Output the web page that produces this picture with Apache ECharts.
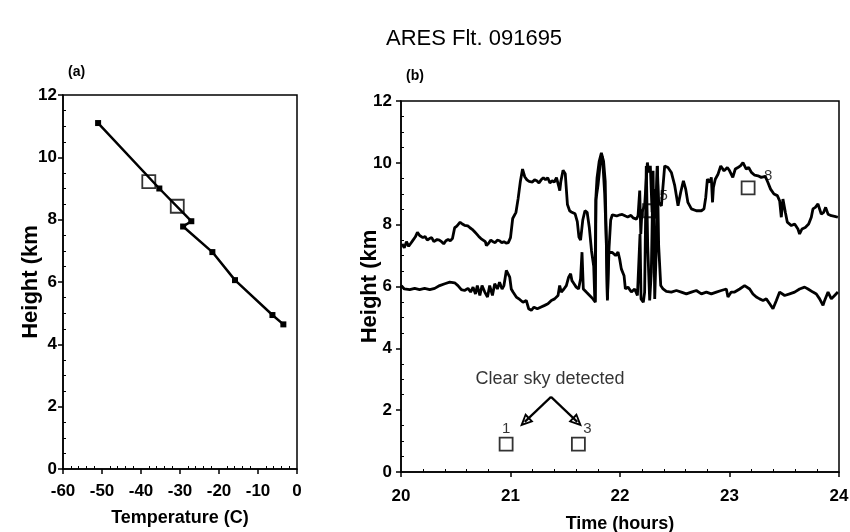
<!DOCTYPE html>
<html>
<head>
<meta charset="utf-8">
<script src="https://cdn.jsdelivr.net/npm/echarts@6/dist/echarts.min.js"></script>
<style>html,body{margin:0;padding:0;background:#fff}#c{width:850px;height:532px}</style>
</head>
<body>
<div id="c"></div>
<script>
// ---------- data: panel (a) temperature profile ----------
const profileTemp   = [-51, -35.3, -27.1, -29.2, -21.7, -15.9, -6.3, -3.5];
const profileHeight = [11.1, 9.0, 7.95, 7.78, 6.96, 6.06, 4.94, 4.64];
const openTemp   = [-38, -30.7];
const openHeight = [9.22, 8.43];
const tempTicks = [-60, -50, -40, -30, -20, -10, 0];
const heightTicks = [0, 2, 4, 6, 8, 10, 12];
const timeTicks = [20, 21, 22, 23, 24];

// ---------- data: panel (b) cloud heights ----------
const upperCloud = [[20.01,7.38],[20.03,7.25],[20.05,7.45],[20.07,7.30],[20.09,7.40],[20.11,7.50],[20.13,7.60],[20.15,7.75],[20.17,7.65],[20.20,7.58],[20.22,7.62],[20.24,7.50],[20.26,7.55],[20.28,7.58],[20.30,7.45],[20.31,7.42],[20.33,7.52],[20.35,7.50],[20.37,7.45],[20.39,7.38],[20.41,7.48],[20.43,7.52],[20.45,7.48],[20.47,7.55],[20.49,7.90],[20.51,7.95],[20.54,8.08],[20.56,8.02],[20.58,7.98],[20.61,7.96],[20.63,7.90],[20.65,7.85],[20.67,7.78],[20.69,7.70],[20.71,7.62],[20.73,7.55],[20.75,7.50],[20.77,7.45],[20.78,7.32],[20.80,7.40],[20.82,7.50],[20.84,7.45],[20.86,7.42],[20.88,7.50],[20.90,7.48],[20.92,7.42],[20.94,7.45],[20.96,7.40],[20.98,7.42],[21.00,7.58],[21.02,8.20],[21.05,8.40],[21.07,8.85],[21.09,9.40],[21.11,9.80],[21.13,9.55],[21.15,9.45],[21.17,9.40],[21.20,9.38],[21.22,9.45],[21.24,9.42],[21.26,9.35],[21.28,9.45],[21.30,9.52],[21.32,9.45],[21.34,9.52],[21.36,9.35],[21.38,9.42],[21.40,9.38],[21.42,9.52],[21.44,9.25],[21.45,9.10],[21.46,9.40],[21.48,9.76],[21.50,9.65],[21.51,9.60],[21.52,8.65],[21.54,8.45],[21.56,8.40],[21.59,8.35],[21.61,8.10],[21.625,7.60],[21.64,7.50],[21.66,8.15],[21.68,8.45],[21.70,8.40],[21.72,7.90],[21.74,7.15],[21.76,6.65],[21.77,5.55],[21.78,8.90],[21.79,9.50],[21.81,10.05],[21.83,10.32],[21.85,10.05],[21.865,9.40],[21.87,8.35],[21.885,5.55],[21.90,7.25],[21.915,8.15],[21.93,8.32],[21.95,8.30],[21.97,8.28],[22.00,8.32],[22.02,8.33],[22.05,8.28],[22.07,8.25],[22.10,8.30],[22.12,8.22],[22.15,8.18],[22.165,8.29],[22.18,9.10],[22.19,7.70],[22.20,8.40],[22.225,8.61],[22.25,10.01],[22.262,9.69],[22.277,9.90],[22.293,8.40],[22.311,9.15],[22.323,8.20],[22.34,9.90],[22.353,8.72],[22.378,8.61],[22.408,9.90],[22.438,9.85],[22.469,9.69],[22.50,9.26],[22.53,8.61],[22.554,9.04],[22.579,9.42],[22.60,9.15],[22.62,8.72],[22.652,8.51],[22.697,8.45],[22.743,8.45],[22.767,8.51],[22.783,8.88],[22.798,9.47],[22.82,9.37],[22.834,9.53],[22.845,8.72],[22.853,9.20],[22.87,9.47],[22.895,9.63],[22.92,9.90],[22.95,9.74],[22.98,9.85],[23.00,9.75],[23.03,9.53],[23.053,9.80],[23.077,9.85],[23.10,9.90],[23.123,10.01],[23.153,9.80],[23.175,9.85],[23.20,9.69],[23.23,9.60],[23.26,9.58],[23.29,9.53],[23.327,9.56],[23.35,9.37],[23.375,9.15],[23.406,8.99],[23.437,8.94],[23.458,8.77],[23.473,8.24],[23.488,8.83],[23.51,8.40],[23.528,8.08],[23.565,7.97],[23.595,8.02],[23.625,7.86],[23.64,7.70],[23.662,7.86],[23.692,7.91],[23.723,8.02],[23.747,8.24],[23.762,8.51],[23.784,8.56],[23.808,8.67],[23.826,8.61],[23.838,8.34],[23.86,8.40],[23.878,8.56],[23.90,8.34],[23.93,8.29],[23.96,8.27],[23.99,8.24]];

const lowerCloud = [[20.003,6.03],[20.03,5.92],[20.08,5.90],[20.125,5.94],[20.17,5.90],[20.216,5.94],[20.262,5.90],[20.308,5.94],[20.353,6.03],[20.40,6.09],[20.445,6.14],[20.49,6.12],[20.52,6.03],[20.551,5.90],[20.58,5.87],[20.612,5.94],[20.636,5.82],[20.658,5.98],[20.68,5.76],[20.697,6.03],[20.72,5.71],[20.74,6.03],[20.765,5.82],[20.79,5.66],[20.81,6.03],[20.835,5.71],[20.856,6.09],[20.88,5.92],[20.90,6.14],[20.923,5.92],[20.94,6.03],[20.962,6.52],[20.978,6.57],[20.993,6.30],[21.007,5.92],[21.023,5.82],[21.053,5.66],[21.084,5.58],[21.114,5.49],[21.144,5.55],[21.166,5.28],[21.19,5.23],[21.214,5.33],[21.245,5.28],[21.275,5.33],[21.312,5.39],[21.342,5.44],[21.373,5.55],[21.403,5.60],[21.434,5.71],[21.449,6.03],[21.464,5.82],[21.488,5.92],[21.51,6.03],[21.531,6.30],[21.549,6.41],[21.561,6.19],[21.58,6.09],[21.60,5.98],[21.622,5.92],[21.64,6.25],[21.653,7.11],[21.665,5.92],[21.692,5.82],[21.723,5.71],[21.753,5.60],[21.775,5.49],[21.78,8.80],[21.80,9.30],[21.82,10.00],[21.84,10.20],[21.86,9.00],[21.875,7.50],[21.885,5.60],[21.895,7.10],[21.91,7.15],[21.93,7.10],[21.945,7.15],[21.96,7.00],[21.982,7.11],[21.997,6.89],[22.012,6.57],[22.037,6.35],[22.049,5.92],[22.073,5.98],[22.104,5.82],[22.134,5.92],[22.159,5.71],[22.174,5.66],[22.183,7.70],[22.192,5.60],[22.213,5.49],[22.225,5.82],[22.24,9.90],[22.253,7.32],[22.271,5.55],[22.286,6.46],[22.302,9.74],[22.317,5.60],[22.332,7.32],[22.341,9.90],[22.353,7.32],[22.372,6.03],[22.393,5.92],[22.423,5.84],[22.469,5.82],[22.515,5.87],[22.56,5.82],[22.606,5.76],[22.652,5.82],[22.697,5.87],[22.743,5.76],[22.789,5.82],[22.834,5.76],[22.88,5.82],[22.925,5.87],[22.971,5.92],[22.986,5.66],[23.016,5.82],[23.047,5.82],[23.093,5.92],[23.138,6.03],[23.184,5.92],[23.214,5.76],[23.245,5.66],[23.275,5.60],[23.306,5.55],[23.336,5.60],[23.367,5.44],[23.397,5.28],[23.428,5.55],[23.458,5.82],[23.504,5.71],[23.549,5.76],[23.595,5.82],[23.64,5.92],[23.686,5.98],[23.717,5.92],[23.762,5.82],[23.793,5.76],[23.823,5.60],[23.854,5.39],[23.869,5.55],[23.90,5.82],[23.93,5.60],[23.96,5.71],[23.99,5.82]];

const sampleTime   = [20.96, 21.62, 22.27, 23.17];
const sampleHeight = [0.9, 0.9, 8.45, 9.19];
const sampleLabels = ['1', '3', '5', '8'];
const noteText = 'Clear sky detected';
const noteAt = [21.36, 3.0];
const arrowFrom = [21.37, 2.43];
const arrowTo = [[21.13, 1.62], [21.61, 1.62]];

// ---------- chart ----------
const FONT = "'Liberation Sans', Arial, Helvetica, sans-serif";
const BLACK = '#000';
const labelOffsets = [[0, 5], [9, 5], [14, 5], [20, 8]];

function axis(extra) {
  return Object.assign({
    type: 'value',
    nameLocation: 'middle',
    nameMoveOverlap: false,
    nameTextStyle: { fontSize: 18, fontWeight: 'bold', color: BLACK, fontFamily: FONT },
    axisLine: { onZero: false, lineStyle: { color: BLACK, width: 1.5 } },
    axisTick: { show: true, length: 5, lineStyle: { color: BLACK, width: 1.5 } },
    minorTick: { show: true, length: -3, lineStyle: { color: BLACK, width: 1 } },
    axisLabel: { color: BLACK, fontSize: 17, fontWeight: 'bold', fontFamily: FONT },
    splitLine: { show: false }
  }, extra);
}
const yNameStyle = { fontSize: 22, fontWeight: 'bold', color: BLACK, fontFamily: FONT };

const chart = echarts.init(document.getElementById('c'), null, { renderer: 'canvas' });
chart.setOption({
  backgroundColor: '#fff',
  animation: false,
  title: [
    { text: 'ARES Flt. 091695', left: 381, top: 23,
      textStyle: { fontSize: 22, fontWeight: 'normal', color: BLACK, fontFamily: FONT } },
    { text: '(a)', left: 63, top: 60,
      textStyle: { fontSize: 14, fontWeight: 'bold', color: BLACK, fontFamily: FONT } },
    { text: '(b)', left: 401, top: 64,
      textStyle: { fontSize: 14, fontWeight: 'bold', color: BLACK, fontFamily: FONT } }
  ],
  grid: [
    { left: 63, right: 553, top: 95, bottom: 63, show: true, borderColor: BLACK, borderWidth: 1.5,
      outerBoundsMode: 'none', containLabel: false },
    { left: 401, right: 11, top: 101, bottom: 60, show: true, borderColor: BLACK, borderWidth: 1.5,
      outerBoundsMode: 'none', containLabel: false }
  ],
  xAxis: [
    axis({ gridIndex: 0, min: tempTicks[0], max: tempTicks[tempTicks.length - 1], interval: 10,
      name: 'Temperature (C)', nameGap: 40,
      minorTick: { show: true, splitNumber: 5, length: -3, lineStyle: { color: BLACK } },
      axisLabel: { margin: 14, color: BLACK, fontSize: 17, fontWeight: 'bold', fontFamily: FONT } }),
    axis({ gridIndex: 1, min: timeTicks[0], max: timeTicks[timeTicks.length - 1], interval: 1,
      name: 'Time (hours)', nameGap: 43,
      minorTick: { show: true, splitNumber: 5, length: -3, lineStyle: { color: BLACK } },
      axisLabel: { margin: 16, color: BLACK, fontSize: 17, fontWeight: 'bold', fontFamily: FONT } })
  ],
  yAxis: [
    axis({ gridIndex: 0, min: heightTicks[0], max: heightTicks[heightTicks.length - 1], interval: 2,
      name: 'Height (km', nameGap: 21, nameTextStyle: yNameStyle,
      minorTick: { show: true, splitNumber: 4, length: -3, lineStyle: { color: BLACK } },
      axisLabel: { margin: 6, color: BLACK, fontSize: 17, fontWeight: 'bold', fontFamily: FONT } }),
    axis({ gridIndex: 1, min: heightTicks[0], max: heightTicks[heightTicks.length - 1], interval: 2,
      name: 'Height (km', nameGap: 20, nameTextStyle: yNameStyle,
      minorTick: { show: true, splitNumber: 4, length: -3, lineStyle: { color: BLACK } },
      axisLabel: { margin: 9, color: BLACK, fontSize: 17, fontWeight: 'bold', fontFamily: FONT } })
  ],
  series: [
    { type: 'line', xAxisIndex: 0, yAxisIndex: 0,
      data: profileTemp.map((t, i) => [t, profileHeight[i]]),
      symbol: 'rect', symbolSize: 6, showSymbol: true,
      itemStyle: { color: BLACK }, lineStyle: { color: BLACK, width: 2.5 } },
    { type: 'scatter', xAxisIndex: 0, yAxisIndex: 0,
      data: openTemp.map((t, i) => [t, openHeight[i]]),
      symbol: 'rect', symbolSize: 13,
      itemStyle: { color: 'rgba(255,255,255,0)', borderColor: BLACK, borderWidth: 1.8 } },
    { type: 'line', xAxisIndex: 1, yAxisIndex: 1, data: upperCloud, showSymbol: false,
      lineStyle: { color: BLACK, width: 2.8 } },
    { type: 'line', xAxisIndex: 1, yAxisIndex: 1, data: lowerCloud, showSymbol: false,
      lineStyle: { color: BLACK, width: 2.8 } },
    { type: 'scatter', xAxisIndex: 1, yAxisIndex: 1, z: 5,
      data: sampleTime.map((t, i) => ({
        value: [t, sampleHeight[i]],
        label: { show: true, formatter: sampleLabels[i], position: 'top',
          offset: labelOffsets[i], fontSize: 15, color: BLACK, fontFamily: FONT }
      })),
      symbol: 'rect', symbolSize: 13,
      itemStyle: { color: 'rgba(255,255,255,0)', borderColor: BLACK, borderWidth: 1.8 } },
    { type: 'scatter', xAxisIndex: 1, yAxisIndex: 1, symbolSize: 0,
      data: [{ value: noteAt, label: { show: true, position: 'inside', formatter: noteText,
        fontSize: 18, color: BLACK, fontFamily: FONT } }],
      markLine: {
        silent: true, animation: false,
        symbol: ['none', 'path://M5,0L10,10L0,10Z M5,3.6L2.3,8.5L7.7,8.5Z'],
        symbolSize: [12, 13],
        label: { show: false },
        lineStyle: { color: BLACK, width: 2.2, type: 'solid' },
        data: arrowTo.map(p => [{ coord: arrowFrom }, { coord: p }])
      } }
  ]
});
</script>
</body>
</html>
